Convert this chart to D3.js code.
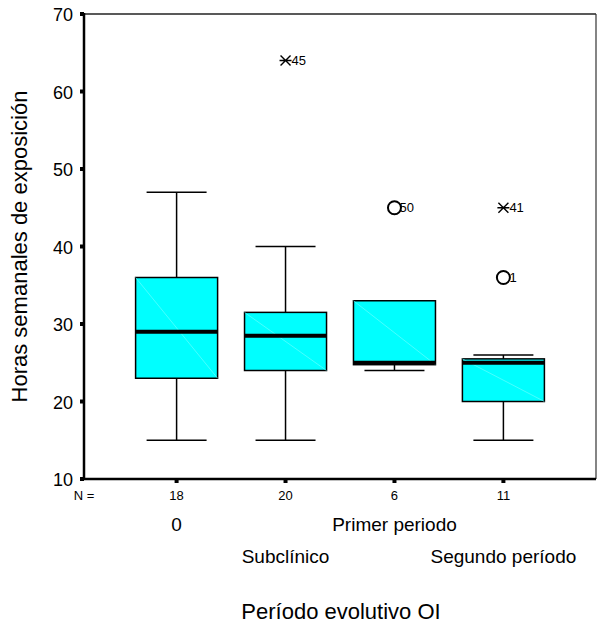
<!DOCTYPE html>
<html lang="es">
<head>
  <meta charset="UTF-8">
  <title>Horas semanales de exposición</title>
  <script src="https://d3js.org/d3.v7.min.js"></script>
  <style>
    body { margin: 0; background: #fff; }
    svg { font-family: "Liberation Sans", Arial, sans-serif; }
  </style>
</head>
<body>
  <svg id="chart" width="600" height="625"></svg>
  <script>
    // data
    const categories = ['0', 'Subclínico', 'Primer periodo', 'Segundo período'];
    const counts = [18, 20, 6, 11];
    const whiskerLow = [15, 15, 24, 15];
    const q1 = [23, 24, 24.75, 20];
    const medians = [29, 28.5, 25, 25];
    const q3 = [36, 31.5, 33, 25.5];
    const whiskerHigh = [47, 40, 33, 26];
    // outliers: [category index, value, case label, type]
    const outliers = [
      [1, 64, '45', 'extreme'],
      [2, 45, '50', 'outlier'],
      [3, 45, '41', 'extreme'],
      [3, 36, '1', 'outlier']
    ];
    const yTicks = [10, 20, 30, 40, 50, 60, 70];

    const svg = d3.select('#chart');
    const plotLeft = 84, plotRight = 596, plotTop = 14, plotBottom = 479;

    const x = d3.scalePoint().domain(categories).range([plotLeft, plotRight]).padding(0.85);
    const y = d3.scaleLinear().domain([10, 70]).range([plotBottom, plotTop]);

    const boxW = 82, capW = 60;

    // frame
    svg.append('line').attr('x1', plotLeft).attr('x2', plotRight).attr('y1', plotTop).attr('y2', plotTop)
      .attr('stroke', '#222').attr('stroke-width', 1.5);
    svg.append('line').attr('x1', plotRight).attr('x2', plotRight).attr('y1', plotTop).attr('y2', plotBottom)
      .attr('stroke', '#333').attr('stroke-width', 1.2);

    const boxes = svg.selectAll('g.box')
      .data(categories)
      .enter()
      .append('g')
      .attr('class', 'box');

    // whiskers + boxes
    boxes.each(function (c, i) {
      const g = d3.select(this);
      const cx = x(c);
      if (whiskerHigh[i] > q3[i]) {
        g.append('line').attr('x1', cx).attr('x2', cx).attr('y1', y(q3[i])).attr('y2', y(whiskerHigh[i]))
          .attr('stroke', '#000').attr('stroke-width', 1.5);
        g.append('line').attr('x1', cx - capW / 2).attr('x2', cx + capW / 2)
          .attr('y1', y(whiskerHigh[i])).attr('y2', y(whiskerHigh[i]))
          .attr('stroke', '#000').attr('stroke-width', 1.5);
      }
      if (whiskerLow[i] < q1[i]) {
        g.append('line').attr('x1', cx).attr('x2', cx).attr('y1', y(q1[i])).attr('y2', y(whiskerLow[i]))
          .attr('stroke', '#000').attr('stroke-width', 1.5);
        g.append('line').attr('x1', cx - capW / 2).attr('x2', cx + capW / 2)
          .attr('y1', y(whiskerLow[i])).attr('y2', y(whiskerLow[i]))
          .attr('stroke', '#000').attr('stroke-width', 1.5);
      }
      g.append('rect')
        .attr('x', cx - boxW / 2)
        .attr('y', y(q3[i]))
        .attr('width', boxW)
        .attr('height', y(q1[i]) - y(q3[i]))
        .attr('fill', '#00ffff')
        .attr('stroke', '#000')
        .attr('stroke-width', 1.5);
      // faint diagonal seen inside the boxes
      g.append('line')
        .attr('x1', cx - boxW / 2).attr('y1', y(q3[i]))
        .attr('x2', cx + boxW / 2).attr('y2', y(q1[i]))
        .attr('stroke', '#7ff').attr('stroke-width', 0.6);
      g.append('line')
        .attr('x1', cx - boxW / 2).attr('x2', cx + boxW / 2)
        .attr('y1', y(medians[i])).attr('y2', y(medians[i]))
        .attr('stroke', '#000').attr('stroke-width', 4);
    });

    // outliers and extremes
    outliers.forEach(([ci, v, lab, type]) => {
      const cx = x(categories[ci]), cy = y(v);
      if (type === 'extreme') {
        const s = 5;
        svg.append('path')
          .attr('d', `M${cx - 6},${cy}H${cx + 6}M${cx - s},${cy - s}L${cx + s},${cy + s}M${cx - s},${cy + s}L${cx + s},${cy - s}`)
          .attr('stroke', '#000').attr('stroke-width', 1.4).attr('fill', 'none');
        svg.append('text').attr('x', cx + 6).attr('y', cy + 4.5)
          .attr('font-size', 13).text(lab);
      } else {
        svg.append('text').attr('x', cx + (lab.length > 1 ? 5 : 6)).attr('y', cy + 4.5)
          .attr('font-size', 13).text(lab);
        svg.append('circle').attr('cx', cx).attr('cy', cy).attr('r', 6.5)
          .attr('fill', 'none').attr('stroke', '#000').attr('stroke-width', 2);
      }
    });

    // left axis
    svg.append('line').attr('x1', plotLeft).attr('x2', plotLeft).attr('y1', plotTop - 1).attr('y2', plotBottom + 1)
      .attr('stroke', '#000').attr('stroke-width', 2.5);
    svg.selectAll('rect.ytick')
      .data(yTicks)
      .enter()
      .append('rect')
      .attr('class', 'ytick')
      .attr('x', plotLeft - 4).attr('y', d => y(d) - 2)
      .attr('width', 4).attr('height', 4)
      .attr('fill', '#000');
    svg.selectAll('text.ylab')
      .data(yTicks)
      .enter()
      .append('text')
      .attr('class', 'ylab')
      .attr('x', plotLeft - 11).attr('y', d => y(d) + 7)
      .attr('text-anchor', 'end')
      .attr('font-size', 18)
      .text(d => d);

    // bottom axis
    svg.append('line').attr('x1', plotLeft - 1).attr('x2', plotRight).attr('y1', plotBottom).attr('y2', plotBottom)
      .attr('stroke', '#000').attr('stroke-width', 2.5);
    svg.selectAll('rect.xtick')
      .data(categories)
      .enter()
      .append('rect')
      .attr('class', 'xtick')
      .attr('x', d => x(d) - 2).attr('y', plotBottom)
      .attr('width', 4).attr('height', 4)
      .attr('fill', '#000');

    svg.append('text').attr('x', plotLeft).attr('y', 500).attr('text-anchor', 'middle')
      .attr('font-size', 13).text('N =');
    svg.selectAll('text.n')
      .data(categories)
      .enter()
      .append('text')
      .attr('class', 'n')
      .attr('x', d => x(d)).attr('y', 500)
      .attr('text-anchor', 'middle')
      .attr('font-size', 13)
      .text((d, i) => counts[i]);

    svg.selectAll('text.cat')
      .data(categories)
      .enter()
      .append('text')
      .attr('class', 'cat')
      .attr('x', d => x(d)).attr('y', (d, i) => i % 2 === 0 ? 531 : 563)
      .attr('text-anchor', 'middle')
      .attr('font-size', 19)
      .text(d => d);

    svg.append('text')
      .attr('x', 341).attr('y', 619)
      .attr('text-anchor', 'middle')
      .attr('font-size', 22)
      .text('Período evolutivo OI');

    svg.append('text')
      .attr('transform', `translate(27,${(plotTop + plotBottom) / 2}) rotate(-90)`)
      .attr('text-anchor', 'middle')
      .attr('font-size', 22)
      .text('Horas semanales de exposición');
  </script>
</body>
</html>
